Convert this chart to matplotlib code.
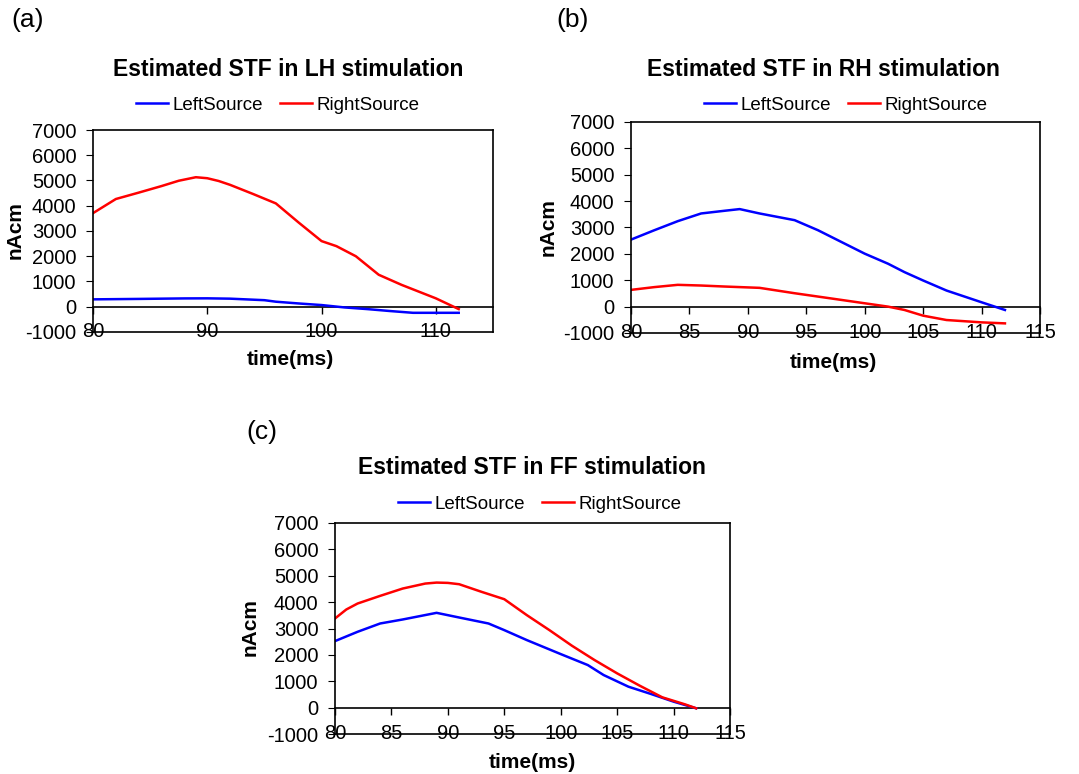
import numpy as np
import matplotlib
matplotlib.use("Agg")
import matplotlib.pyplot as plt

plt.rcParams['font.family'] = ['Liberation Sans', 'DejaVu Sans']
plt.rcParams['axes.unicode_minus'] = False

W, H = 1079, 774

# (a) LH stimulation
lh_t_left = [80, 84, 88, 90, 92, 95, 96, 98, 100, 102, 104, 106, 108, 110, 112]
lh_left = [293, 310, 330, 333, 320, 260, 200, 130, 67, -27, -93, -170, -240, -240, -240]
lh_t_right = [80, 82, 84, 86, 87.5, 89, 90, 91, 92, 94, 96, 98, 100, 101.3, 103, 105, 107, 110, 112]
lh_right = [3707, 4267, 4520, 4780, 4990, 5130, 5090, 4980, 4827, 4467, 4093, 3333, 2600, 2400, 2000, 1267, 867, 333, -93]

# (b) RH stimulation
rh_t_left = [80, 82, 84, 86, 88, 89.3, 91, 94, 96, 98, 100, 102, 103.4, 105, 107, 110, 112]
rh_left = [2541, 2897, 3240, 3532, 3634, 3698, 3532, 3278, 2897, 2452, 2008, 1626, 1309, 991, 610, 165, -127]
rh_t_right = [80, 82, 84, 86, 88, 91, 94, 97, 100, 102, 103.4, 105, 107, 110, 112]
rh_right = [635, 740, 826, 800, 762, 712, 508, 318, 127, 0, -127, -343, -508, -597, -635]

# (c) FF stimulation
ff_t_left = [80, 82, 84, 86, 89, 91, 93.6, 95, 97, 100, 102.4, 103.8, 106, 108, 110, 112]
ff_left = [2522, 2875, 3190, 3342, 3594, 3417, 3190, 2938, 2560, 2030, 1614, 1236, 794, 517, 227, -25]
ff_t_right = [80, 81, 82, 84, 86, 88, 89, 90, 91, 93, 95, 97, 99, 101, 103, 105, 107, 109, 111, 112]
ff_right = [3380, 3720, 3947, 4237, 4515, 4704, 4741, 4729, 4679, 4388, 4111, 3506, 2938, 2345, 1803, 1299, 832, 391, 126, -25]

y_ticks = list(range(-1000, 7001, 1000))


def px(x, y):
    return x / W, 1 - y / H


def draw_panel(fig, rect, t_left, left, t_right, right, xstep, title, title_xy,
               leg_xy, xlabel_xy, ylabel_xy, tag, tag_xy):
    l, t, r, b = rect
    ax = fig.add_axes([l / W, 1 - b / H, (r - l) / W, (b - t) / H])
    ax.plot(t_left, left, color='#0000ff', lw=1.8, label='LeftSource')
    ax.plot(t_right, right, color='#ff0000', lw=1.8, label='RightSource')
    ax.set_xlim(80, 115)
    ax.set_ylim(-1000, 7000)
    xt = list(range(80, 116, xstep))
    ax.set_xticks(xt)
    ax.set_yticks(y_ticks)
    ax.tick_params(axis='x', length=0, pad=-7, labelsize=14.5)
    ax.tick_params(axis='y', direction='out', length=5, labelsize=14.5, pad=7)
    for s in ax.spines.values():
        s.set_linewidth(1.2)
    # horizontal axis crossing at zero, Excel style
    sec = ax.secondary_xaxis(1 / 8)
    sec.set_xticks(xt)
    sec.tick_params(axis='x', direction='out', length=5, labelbottom=False, width=1)
    sec.spines['bottom'].set_linewidth(1.2)

    fig.text(*px(*title_xy), title, fontsize=16.5, fontweight='bold',
             ha='center', va='center')
    fig.legend(*ax.get_legend_handles_labels(), loc='center',
               bbox_to_anchor=px(*leg_xy), ncol=2, frameon=False,
               fontsize=13.5, handlelength=1.7, columnspacing=0.9,
               handletextpad=0.25)
    fig.text(*px(*xlabel_xy), 'time(ms)', fontsize=15, fontweight='bold',
             ha='center', va='center')
    fig.text(*px(*ylabel_xy), 'nAcm', fontsize=15, fontweight='bold',
             ha='center', va='center', rotation=90)
    fig.text(*px(*tag_xy), tag, fontsize=19, ha='left', va='center')
    return ax


fig = plt.figure(figsize=(W / 100, H / 100), dpi=100)

draw_panel(fig, (93, 130, 493, 332), lh_t_left, lh_left, lh_t_right, lh_right, 10,
           'Estimated STF in LH stimulation', (288, 69), (278, 105), (290, 360),
           (15, 230), '(a)', (11, 20))
draw_panel(fig, (631, 122, 1040, 333), rh_t_left, rh_left, rh_t_right, rh_right, 5,
           'Estimated STF in RH stimulation', (823, 69), (846, 105), (833, 362),
           (548, 227), '(b)', (556, 20))
draw_panel(fig, (335, 523, 730, 734), ff_t_left, ff_left, ff_t_right, ff_right, 5,
           'Estimated STF in FF stimulation', (532, 468), (540, 504), (532, 762),
           (250, 627), '(c)', (246, 432))

fig.savefig('out.png', dpi=100)
